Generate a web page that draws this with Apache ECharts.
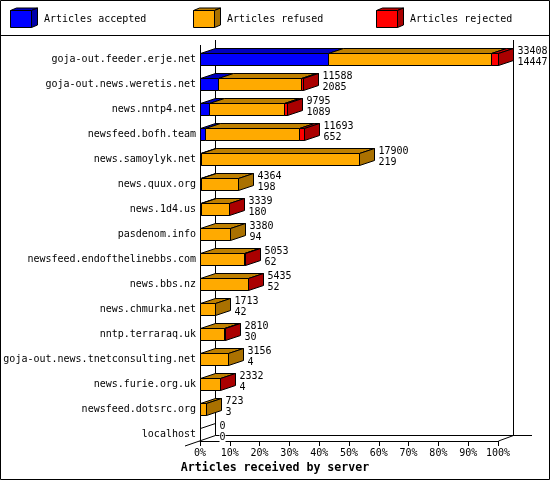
<!DOCTYPE html>
<html>
<head>
<meta charset="utf-8">
<style>html,body{margin:0;padding:0;background:#fff}#c{width:550px;height:480px}</style>
<script src="https://cdn.jsdelivr.net/npm/echarts@6/dist/echarts.min.js"></script>
</head>
<body>
<div id="c"></div>
<script>
const categories = ['goja-out.feeder.erje.net','goja-out.news.weretis.net','news.nntp4.net','newsfeed.bofh.team','news.samoylyk.net','news.quux.org','news.1d4.us','pasdenom.info','newsfeed.endofthelinebbs.com','news.bbs.nz','news.chmurka.net','nntp.terraraq.uk','goja-out.news.tnetconsulting.net','news.furie.org.uk','newsfeed.dotsrc.org','localhost'];
const offered  = [33408,11588,9795,11693,17900,4364,3339,3380,5053,5435,1713,2810,3156,2332,723,0];
const accepted = [14447,2085,1089,652,219,198,180,94,62,52,42,30,4,4,3,0];
const refused  = [18241,9303,8436,10481,17681,4166,3144,3286,4979,5373,1671,2772,3152,2322,720,0];
const rejected = [720,200,270,560,0,0,15,0,12,10,0,8,0,6,0,0];
const seriesNames = ['Articles accepted','Articles refused','Articles rejected'];
const frontColors = ['#0000ff','#ffaa00','#ff0000'];
const topColors   = ['#0000bf','#bf8000','#bf0000'];
const sideColors  = ['#0000aa','#aa7100','#aa0000'];
const axisMax = 33408;
const axisTitle = 'Articles received by server';

const MONO = '"DejaVu Sans Mono", "Liberation Mono", monospace';
const DX = 15, DY = 5, HALF = 6;
const crisp = v => Math.floor(v) + 0.5;

function renderItem(params, api) {
  const i = params.dataIndex;
  const base = api.coord([0, i]);
  const cy = crisp(base[1]);
  const y0 = cy - HALF, y1 = cy + HALF;
  const vals = [api.value(1), api.value(2), api.value(3)];
  const children = [];
  let sum = 0;
  let x0 = crisp(base[0]);
  let last = 0;
  const stroke = {stroke:'#000', lineWidth:1};
  vals.forEach((v, k) => {
    sum += v;
    const x1 = crisp(api.coord([sum, i])[0]);
    if (v > 0) last = k;
    if (x1 > x0) {
      children.push({type:'polygon', shape:{points:[[x0,y0],[x1,y0],[x1+DX,y0-DY],[x0+DX,y0-DY]]}, style:Object.assign({fill:topColors[k]}, stroke)});
      children.push({type:'rect', shape:{x:x0,y:y0,width:x1-x0,height:y1-y0}, style:Object.assign({fill:frontColors[k]}, stroke)});
      x0 = x1;
    }
  });
  const total = api.value(4);
  if (total > 0) {
    children.push({type:'polygon', shape:{points:[[x0,y0],[x0+DX,y0-DY],[x0+DX,y1-DY],[x0,y1]]}, style:Object.assign({fill:sideColors[last]}, stroke)});
  } else {
    children.push({type:'polyline', shape:{points:[[x0,y0],[x0+DX,y0-DY]]}, style:{stroke:'#000', lineWidth:1, fill:'none'}});
  }
  const tx = x0 + DX + 4;
  const textStyle = {fontFamily:MONO, fontSize:10, fill:'#000', align:'left', verticalAlign:'middle', backgroundColor:'#fff'};
  children.push({type:'text', style:Object.assign({x:tx, y:cy-8.5, text:String(total)}, textStyle)});
  children.push({type:'text', style:Object.assign({x:tx, y:cy+2.5, text:String(api.value(5))}, textStyle)});
  return {type:'group', children};
}

function legendItem(k, x) {
  const y0 = 10.5, y1 = 27.5, w = 21, dx = 6, dy = 2.5;
  const st = c => ({fill:c, stroke:'#000', lineWidth:1});
  return [
    {type:'polygon', shape:{points:[[x,y0],[x+w,y0],[x+w+dx,y0-dy],[x+dx,y0-dy]]}, style:st(topColors[k]), z:5},
    {type:'polygon', shape:{points:[[x+w,y0],[x+w+dx,y0-dy],[x+w+dx,y1-dy],[x+w,y1]]}, style:st(sideColors[k]), z:5},
    {type:'rect', shape:{x:x,y:y0,width:w,height:y1-y0}, style:st(frontColors[k]), z:5},
    {type:'text', x:x+33.5, y:14, style:{text:seriesNames[k], fontFamily:MONO, fontSize:10, fill:'#000'}, z:5}
  ];
}

function line(x1,y1,x2,y2){
  return {type:'line', shape:{x1,y1,x2,y2}, style:{stroke:'#000', lineWidth:1}, z:0};
}

const chart = echarts.init(document.getElementById('c'), null, {renderer:'canvas'});
chart.setOption({
  animation:false,
  backgroundColor:'#fff',
  title:{text:axisTitle, left:'center', top:461.5, itemGap:0, padding:0,
    textStyle:{fontFamily:MONO, fontWeight:'bold', fontSize:11.6, color:'#000'}},
  grid:{left:200, width:298, top:47, height:400, containLabel:false},
  xAxis:{type:'value', min:0, max:axisMax, interval:axisMax/10, offset:-6,
    splitLine:{show:false},
    axisLine:{show:true, lineStyle:{color:'#000', width:1}},
    axisTick:{show:true, length:5, lineStyle:{color:'#000', width:1}},
    axisLabel:{margin:7, color:'#000', fontFamily:MONO, fontSize:10, showMinLabel:true, showMaxLabel:true,
      formatter:v => Math.round(v/axisMax*100) + '%'}},
  yAxis:{type:'category', inverse:true, data:categories,
    axisLine:{show:false}, axisTick:{show:false}, splitLine:{show:false},
    axisLabel:{interval:0, margin:4, color:'#000', fontFamily:MONO, fontSize:10}},
  graphic:{elements:[
    {type:'rect', shape:{x:0.5,y:0.5,width:549,height:479}, style:{fill:'none',stroke:'#000',lineWidth:1}, z:0},
    line(0,35.5,550,35.5),
    line(215.5,40,215.5,435.5),
    line(513.5,40,513.5,435.5),
    line(200.5,45,200.5,441),
    line(215.5,435.5,532,435.5),
    line(185,446,215.5,435.5),
    line(498.5,441,513.5,435.5),
    ...legendItem(0,10.5),
    ...legendItem(1,193.5),
    ...legendItem(2,376.5)
  ]},
  series:[{
    type:'custom',
    coordinateSystem:'cartesian2d',
    renderItem,
    encode:{y:0, x:4},
    clip:false,
    z:3,
    data:categories.map((c,i)=>[c, accepted[i], refused[i], rejected[i], offered[i], accepted[i]])
  }]
});
</script>
</body>
</html>
